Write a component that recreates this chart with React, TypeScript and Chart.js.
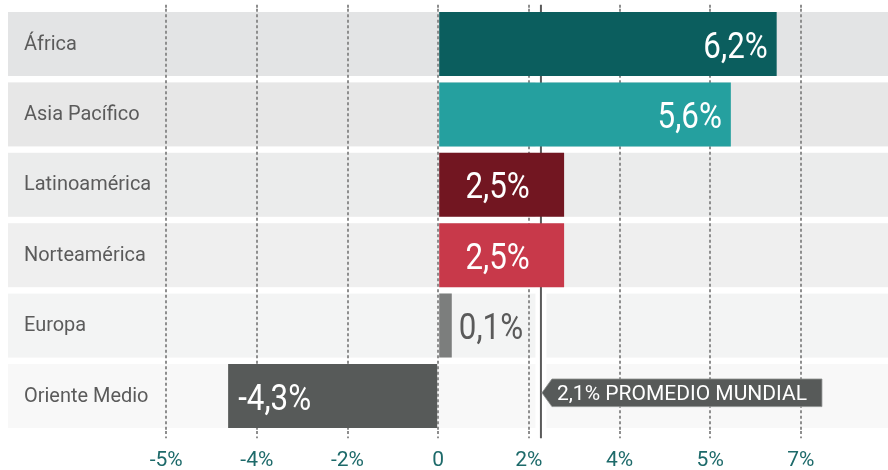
import { useEffect, useRef } from 'react';
import { Chart, registerables } from 'chart.js';

Chart.register(...registerables);

// ---- data ----
const regions = ['África', 'Asia Pacífico', 'Latinoamérica', 'Norteamérica', 'Europa', 'Oriente Medio'];
const barValues = [6.72, 5.81, 2.5, 2.5, 0.27, -4.17];
const valueLabels = ['6,2%', '5,6%', '2,5%', '2,5%', '0,1%', '-4,3%'];
const tickValues = [-5.4, -3.6, -1.8, 0, 1.8, 3.6, 5.4, 7.2];
const tickLabels = ['-5%', '-4%', '-2%', '0', '2%', '4%', '5%', '7%'];
const averageValue = 2.04;
const averageLabel = '2,1% PROMEDIO MUNDIAL';
const axisMin = -8.54;
const axisMax = 8.93;

// ---- styles ----
const barColors = ['#0b5e5e', '#25a09f', '#721621', '#c8394a', '#7c7e7d', '#575a59'];
const bandColors = ['#e3e4e5', '#e7e7e7', '#ebecec', '#efefef', '#f3f4f4', '#f8f8f8'];
const gridColor = '#8e8e8e';
const gridDash = [3, 2.5];
const FONT = 'Roboto';

function drawText(ctx: CanvasRenderingContext2D, text: string, x: number, y: number, align: CanvasTextAlign, sx: number) {
  ctx.save();
  ctx.translate(x, y);
  ctx.scale(sx, 1);
  ctx.textAlign = align;
  ctx.textBaseline = 'alphabetic';
  ctx.fillText(text, 0, 0);
  ctx.restore();
}

const backdropPlugin = {
  id: 'backdrop',
  beforeDraw(chart: any) {
    const { ctx, chartArea: ca, scales } = chart;
    const y = scales.y;
    const x = scales.x;
    const meta = chart.getDatasetMeta(0);
    ctx.save();
    regions.forEach((_, i) => {
      const bar = meta.data[i];
      const h = bar ? bar.height : 64;
      const cy = y.getPixelForValue(i);
      ctx.fillStyle = bandColors[i];
      ctx.fillRect(ca.left, cy - h / 2, ca.right - ca.left, h);
    });
    const ax = x.getPixelForValue(averageValue);
    ctx.fillStyle = '#ffffff';
    ctx.fillRect(ax - 5.5, ca.top, 11, ca.bottom - ca.top);
    ctx.strokeStyle = '#5a5a5a';
    ctx.lineWidth = 2;
    ctx.beginPath();
    ctx.moveTo(ax, ca.top - 4);
    ctx.lineTo(ax, ca.bottom + 7);
    ctx.stroke();
    ctx.restore();
  },
};

const labelsPlugin = {
  id: 'labels',
  afterDatasetsDraw(chart: any) {
    const { ctx, chartArea: ca, scales } = chart;
    const meta = chart.getDatasetMeta(0);
    ctx.save();
    // category labels
    ctx.font = `21px ${FONT}`;
    ctx.fillStyle = '#5b5b5b';
    regions.forEach((name, i) => {
      const cy = scales.y.getPixelForValue(i);
      drawText(ctx, name, ca.left + 16, cy + 5.5, 'left', 0.95);
    });
    // value labels
    ctx.font = `36px ${FONT}`;
    meta.data.forEach((bar: any, i: number) => {
      const { x: endX, base, y: cy } = bar.getProps(['x', 'base', 'y'], true);
      const w = Math.abs(endX - base);
      const neg = barValues[i] < 0;
      const ty = cy + 13.5;
      if (w > 150) {
        ctx.fillStyle = '#ffffff';
        if (neg) drawText(ctx, valueLabels[i], endX + 10, ty, 'left', 0.87);
        else drawText(ctx, valueLabels[i], endX - 9, ty, 'right', 0.87);
      } else if (w > 60) {
        ctx.fillStyle = '#ffffff';
        drawText(ctx, valueLabels[i], (endX + base) / 2 - 4, ty, 'center', 0.87);
      } else {
        ctx.fillStyle = '#5a5a5a';
        drawText(ctx, valueLabels[i], endX + 7, ty, 'left', 0.87);
      }
    });
    // average tag
    const ax = scales.x.getPixelForValue(averageValue);
    const cyLast = scales.y.getPixelForValue(regions.length - 1);
    const mid = cyLast - 3.2;
    const top = mid - 13.8;
    const bottom = mid + 13.8;
    ctx.font = `21px ${FONT}`;
    const sx = 1;
    const tw = ctx.measureText(averageLabel).width * sx;
    const tx = ax + 16;
    const right = tx + tw + 15;
    ctx.beginPath();
    ctx.moveTo(ax + 1, mid);
    ctx.lineTo(ax + 11, top);
    ctx.lineTo(right, top);
    ctx.lineTo(right, bottom);
    ctx.lineTo(ax + 11, bottom);
    ctx.closePath();
    ctx.fillStyle = '#575a59';
    ctx.fill();
    ctx.strokeStyle = 'rgba(140,142,141,0.8)';
    ctx.lineWidth = 1;
    ctx.stroke();
    ctx.fillStyle = '#ffffff';
    drawText(ctx, averageLabel, tx, mid + 7, 'left', sx);
    ctx.restore();
  },
};

const setTicks = (s: any) => {
  s.ticks = tickValues.map((v) => ({ value: v }));
};

export default function App() {
  const ref = useRef<HTMLCanvasElement | null>(null);
  useEffect(() => {
    if (!ref.current) return;
    const chart = new Chart(ref.current, {
      type: 'bar',
      data: {
        labels: regions,
        datasets: [
          {
            data: barValues,
            backgroundColor: barColors,
            borderWidth: 0,
            barPercentage: 64 / 70.4,
            categoryPercentage: 1,
            xAxisID: 'x',
            yAxisID: 'y',
          },
        ],
      },
      options: {
        indexAxis: 'y',
        responsive: false,
        maintainAspectRatio: false,
        animation: false,
        devicePixelRatio: 1,
        layout: { padding: { left: 8, right: 0, top: 4.8, bottom: -12.8 } },
        plugins: { legend: { display: false }, tooltip: { enabled: false } },
        scales: {
          x: {
            type: 'linear',
            position: 'bottom',
            min: axisMin,
            max: axisMax,
            afterBuildTicks: setTicks,
            ticks: {
              callback: (_v: any, i: number) => tickLabels[i] ?? '',
              color: '#1d6a6a',
              font: { family: FONT, size: 21, lineHeight: 19 / 21 },
              padding: 12.8,
              maxRotation: 0,
              autoSkip: false,
            },
            grid: {
              color: gridColor,
              lineWidth: 2,
              tickBorderDash: gridDash,
              tickLength: 7,
              tickColor: gridColor,
              drawTicks: true,
            },
            border: { display: false, dash: gridDash },
          },
          xTop: {
            type: 'linear',
            position: 'top',
            min: axisMin,
            max: axisMax,
            afterBuildTicks: setTicks,
            ticks: { display: false },
            grid: {
              drawOnChartArea: false,
              tickLength: 4,
              tickColor: gridColor,
              lineWidth: 2,
              tickBorderDash: gridDash,
            },
            border: { display: false, dash: gridDash },
          },
          y: {
            type: 'category',
            display: false,
            grid: { display: false },
          },
        },
      },
      plugins: [backdropPlugin, labelsPlugin],
    } as any);
    return () => chart.destroy();
  }, []);
  return (
    <div style={{ position: 'absolute', left: 0, top: 0, width: 888, height: 470 }}>
      <canvas ref={ref} width={888} height={470} style={{ display: 'block', width: 888, height: 470 }} />
    </div>
  );
}
